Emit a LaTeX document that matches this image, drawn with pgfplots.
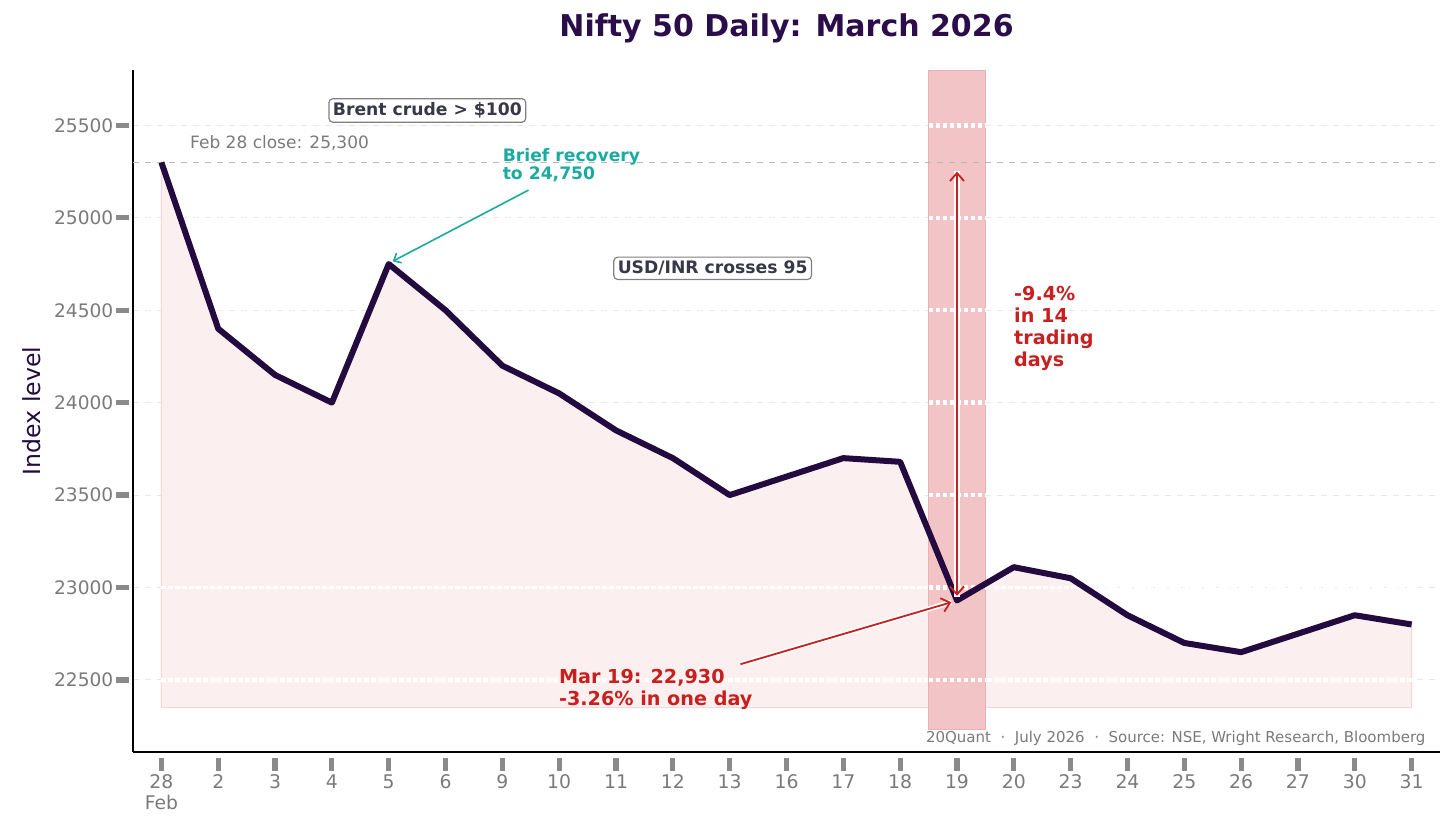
\documentclass[border=0pt]{standalone}
\usepackage{fontspec}
\setmainfont{DejaVu Sans}
\usepackage{pgfplots}
\usepackage{pgfplotstable}
\pgfplotsset{compat=1.18}
\usepgfplotslibrary{fillbetween}
\usetikzlibrary{arrows.meta}
\definecolor{navy}{HTML}{230B40}
\definecolor{titlec}{HTML}{2A0D4A}
\definecolor{tickgray}{HTML}{7A7A7A}
\definecolor{tickmark}{HTML}{8A8A8A}
\definecolor{pinkfill}{HTML}{FCEFEF}
\definecolor{pinkedge}{HTML}{F6D6D6}
\definecolor{band}{HTML}{F2C4C6}
\definecolor{bandedge}{HTML}{EBB0B3}
\definecolor{teal}{HTML}{1AABA0}
\definecolor{redc}{HTML}{C8201E}
\definecolor{boxtext}{HTML}{383848}
\pgfplotstableread{
x y
0 25300
1 24400
2 24150
3 24000
4 24750
5 24500
6 24200
7 24050
8 23850
9 23700
10 23500
11 23600
12 23700
13 23680
14 22930
15 23110
16 23050
17 22850
18 22700
19 22650
20 22750
21 22850
22 22800
}\nifty
\begin{document}
\begin{tikzpicture}
\begin{axis}[name=ax, scale only axis, width=653.5pt, height=341pt,
  xmin=-0.5, xmax=22.5, ymin=22110, ymax=25800,
  axis x line*=bottom, axis y line*=left,
  axis line style={line width=1.3pt, black, -},
  xtick={0,...,22},
  xticklabels={{28\\Feb},2,3,4,5,6,9,10,11,12,13,16,17,18,19,20,23,24,25,26,27,30,31},
  xticklabel style={align=center, font=\fontsize{9.4}{10.4}\selectfont, text=tickgray, inner sep=2pt, yshift=-3pt},
  ytick={22500,23000,...,25500},
  yticklabel style={font=\fontsize{9.3}{10}\selectfont, text=tickgray},
  /pgf/number format/assume math mode=true,
  scaled y ticks=false,
  yticklabel={\pgfmathprintnumber[fixed, 1000 sep={}]{\tick}},
  tick align=outside, major tick length=6.3pt,
  every tick/.style={line width=2.6pt, tickmark},
  every major x tick/.append style={yshift=-3pt},
  every major y tick/.append style={xshift=-2pt},
  ymajorgrids, grid style={dashed, black!9, line width=0.5pt},
  title={\textbf{Nifty 50 Daily: March 2026}},
  title style={font=\fontsize{15}{17}\selectfont, text=titlec, yshift=4pt},
  ylabel={Index level},
  ylabel style={font=\fontsize{11.8}{13}\selectfont, text=navy, yshift=0pt},
  clip=false,
]
\addplot[draw=none, name path=top, forget plot] table[x=x,y=y] {\nifty};
\addplot[draw=none, name path=bot, forget plot] coordinates {(0,22350) (22,22350)};
\addplot[fill=pinkfill, draw=pinkedge, line width=0.5pt] fill between[of=top and bot];
% white grid over the pale fill (low levels)
\pgfplotsinvokeforeach{22500,23000}{
  \draw[white, line width=1.6pt, dash pattern=on 2.2pt off 1.3pt] (axis cs:0,#1) -- (axis cs:22,#1);
}
% band
\fill[band, draw=bandedge, line width=0.4pt] (axis cs:13.5,22230) rectangle (axis cs:14.5,25800);
\pgfplotsinvokeforeach{22500,23000,23500,24000,24500,25000,25500}{
  \draw[white, line width=2.2pt, dash pattern=on 2.2pt off 1.3pt] (axis cs:13.5,#1) -- (axis cs:14.5,#1);
}
% reference line
\draw[black!28, dashed, line width=0.6pt] (axis cs:-0.5,25300) -- (axis cs:22.5,25300);
\node[anchor=south west, text=tickgray, font=\fontsize{8.5}{10}\selectfont, inner sep=0pt] at (axis cs:0.5,25365) {Feb 28 close: 25,300};
% data line
\addplot[navy, line width=3pt, line join=round] table[x=x,y=y] {\nifty};
% double arrow
\draw[white, line width=3pt] (axis cs:14,22950) -- (axis cs:14,25255);
\draw[redc, line width=0.9pt, {Straight Barb[length=4pt,width=7pt]}-{Straight Barb[length=4pt,width=7pt]}] (axis cs:14,22955) -- (axis cs:14,25250);
\node[anchor=west, align=left, text=redc, font=\bfseries\fontsize{9.6}{11}\selectfont, inner sep=0pt] at (axis cs:15.0,24403) {-9.4\%\\in 14\\trading\\days};
% Mar 19 annotation
\draw[white, line width=2.6pt] (axis cs:10.19,22585) -- (axis cs:13.9,22920);
\draw[redc, line width=0.9pt, -{Straight Barb[length=4pt,width=7pt]}] (axis cs:10.19,22585) -- (axis cs:13.9,22920);
\node[anchor=west, align=left, text=redc, font=\bfseries\fontsize{9.6}{11}\selectfont, inner sep=0pt] at (axis cs:6.99,22451) {Mar 19: 22,930\\-3.26\% in one day};
% brief recovery
\draw[teal, line width=0.8pt, -{Straight Barb[length=3pt,width=5.5pt]}] (axis cs:6.46,25150) -- (axis cs:4.07,24765);
\node[anchor=west, align=left, text=teal, font=\bfseries\fontsize{8.6}{9}\selectfont, inner sep=0pt] at (axis cs:6.0,25284) {Brief recovery\\to 24,750};
% boxes
\node[draw=black!50, fill=white, rounded corners=2pt, line width=0.6pt, text=boxtext, font=\bfseries\fontsize{8.6}{10}\selectfont, inner sep=2pt] at (axis cs:4.68,25581) {Brent crude > \$100};
\node[draw=black!50, fill=white, rounded corners=2pt, line width=0.6pt, text=boxtext, font=\bfseries\fontsize{8.6}{10}\selectfont, inner sep=2pt] at (axis cs:9.70,24727) {USD/INR crosses 95};
% footer
\node[anchor=east, text=tickgray, font=\fontsize{7.5}{9}\selectfont, inner sep=0pt] at (axis cs:22.25,22186) {20Quant\ \ ·\ \ July 2026\ \ ·\ \ Source: NSE, Wright Research, Bloomberg};
\end{axis}
\useasboundingbox (ax.south west) ++(-66.5pt,-41pt) rectangle ++(728pt,417pt);
\end{tikzpicture}
\end{document}
